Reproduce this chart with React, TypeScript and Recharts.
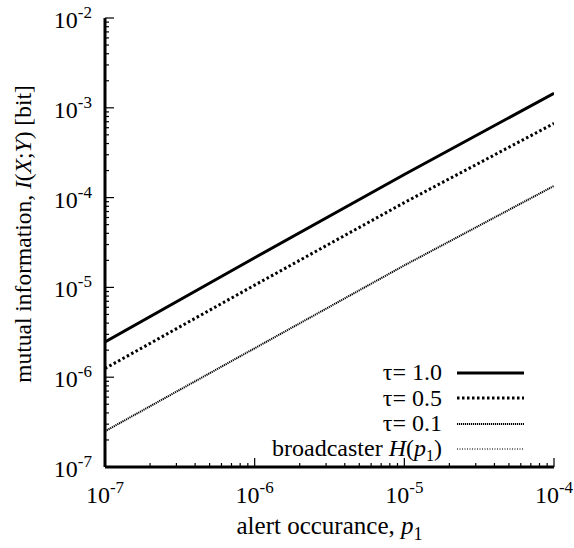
import React from "react";
import { LineChart, Line, XAxis, YAxis, Label } from "recharts";

const pValues = [1e-7, 1e-6, 1e-5, 1e-4];
const tau10 = [2.47e-6, 2.14e-5, 1.81e-4, 1.45e-3];
const tau05 = [1.25e-6, 1.06e-5, 8.8e-5, 6.7e-4];
const tau01 = [2.5e-7, 2.1e-6, 1.76e-5, 1.35e-4];
const broadcaster = [2.47e-6, 2.14e-5, 1.81e-4, 1.45e-3];

const xMajor = [-7, -6, -5, -4];
const yMajor = [-7, -6, -5, -4, -3, -2];

const data = pValues.map((x, i) => ({
  x,
  tau10: tau10[i],
  tau05: tau05[i],
  tau01: tau01[i],
  broadcaster: broadcaster[i],
}));

function withMinor(exps: number[]) {
  const out: number[] = [];
  exps.forEach((e, i) => {
    out.push(Number(`1e${e}`));
    if (i < exps.length - 1) {
      for (let m = 2; m <= 9; m++) out.push(Number(`${m}e${e}`));
    }
  });
  return out;
}
const xTicks = withMinor(xMajor);
const yTicks = withMinor(yMajor);

const FONT = '"Liberation Serif", "Times New Roman", serif';

function majorExp(v: number): number | null {
  const l = Math.log10(v);
  const r = Math.round(l);
  return Math.abs(l - r) < 1e-6 ? r : null;
}

const series = [
  { key: "broadcaster", label: "broadcaster", stroke: "#444", width: 1.3, dash: "1 1.5" },
  { key: "tau01", label: "τ= 0.1", stroke: "#000", width: 2, dash: "1.2 0.8" },
  { key: "tau05", label: "τ= 0.5", stroke: "#000", width: 3, dash: "2.5 2.5" },
  { key: "tau10", label: "τ= 1.0", stroke: "#000", width: 3, dash: undefined as string | undefined },
];
const legendOrder = ["tau10", "tau05", "tau01", "broadcaster"];

const BottomTick = (props: any) => {
  const { x, y, payload } = props;
  const e = majorExp(payload.value);
  const len = e !== null ? 9 : 4;
  return (
    <g>
      <line x1={x} x2={x} y1={y} y2={y - len} stroke="#000" strokeWidth={1.2} />
      {e !== null && (
        <text x={x} y={y + 36} textAnchor="middle" fontFamily={FONT} fontSize={24} fill="#000">
          10<tspan fontSize={17} dy={-10}>{String(e)}</tspan>
        </text>
      )}
    </g>
  );
};

const TopTick = (props: any) => {
  const { x, y, payload } = props;
  const e = majorExp(payload.value);
  const len = e !== null ? 9 : 4;
  return <line x1={x} x2={x} y1={y} y2={y + len} stroke="#000" strokeWidth={1.2} />;
};

const LeftTick = (props: any) => {
  const { x, y, payload } = props;
  const e = majorExp(payload.value);
  const len = e !== null ? 9 : 4;
  return (
    <g>
      <line x1={x} x2={x + len} y1={y} y2={y} stroke="#000" strokeWidth={1.2} />
      {e !== null && (
        <text x={x - 13} y={y + 10} textAnchor="end" fontFamily={FONT} fontSize={24} fill="#000">
          10<tspan fontSize={17} dy={-10}>{String(e)}</tspan>
        </text>
      )}
    </g>
  );
};

const RightTick = (props: any) => {
  const { x, y, payload } = props;
  const e = majorExp(payload.value);
  const len = e !== null ? 9 : 4;
  return <line x1={x} x2={x - len} y1={y} y2={y} stroke="#000" strokeWidth={1.2} />;
};

function legendLabel(key: string, label: string) {
  if (key === "broadcaster") {
    return (
      <>
        broadcaster <i>H</i>(<i>p</i>
        <span style={{ fontSize: 16, position: "relative", top: 5 }}>1</span>)
      </>
    );
  }
  return label;
}

const LegendBox = () => (
  <div
    style={{
      position: "absolute",
      left: 200,
      top: 352,
      width: 330,
      fontFamily: FONT,
      fontSize: 24,
      color: "#000",
      pointerEvents: "none",
    }}
  >
    {legendOrder.map((k) => {
      const s = series.find((q) => q.key === k)!;
      return (
        <div key={k} style={{ display: "flex", alignItems: "center", height: 25.5 }}>
          <span style={{ width: 234, textAlign: "right", lineHeight: "25px", whiteSpace: "nowrap" }}>
            {legendLabel(s.key, s.label)}
          </span>
          <svg width={84} height={12}>
            <line x1={15} x2={82} y1={6} y2={6} stroke={s.stroke} strokeWidth={s.width} strokeDasharray={s.dash} />
          </svg>
        </div>
      );
    })}
  </div>
);

export default function App() {
  return (
    <div style={{ position: "relative", width: 566, height: 532 }}>
      <style>{`html, body, #root { overflow: visible !important; } .recharts-surface { overflow: visible !important; } .recharts-wrapper { overflow: visible !important; }`}</style>
      <LineChart
        width={566}
        height={532}
        data={data}
        margin={{ top: 10, right: 20, bottom: 0, left: 0 }}
        style={{ fontFamily: FONT, overflow: "visible" }}
      >
        <XAxis
          xAxisId="bottom"
          dataKey="x"
          type="number"
          scale="log"
          domain={[1e-7, 1e-4]}
          allowDataOverflow
          ticks={xTicks}
          interval={0}
          tick={<BottomTick />}
          tickSize={0}
          tickMargin={0}
          tickLine={false}
          axisLine={{ stroke: "#000", strokeWidth: 3 }}
          height={73}
        >
          <Label
            content={(p: any) => {
              const vb = p.viewBox;
              return (
                <text x={vb.x + vb.width / 2} y={vb.y + 67} textAnchor="middle" fontFamily={FONT} fontSize={25} fill="#000">
                  alert occurance, <tspan fontStyle="italic">p</tspan>
                  <tspan fontSize={18} dy={6}>1</tspan>
                </text>
              );
            }}
          />
        </XAxis>
        <XAxis
          xAxisId="top"
          dataKey="x"
          type="number"
          scale="log"
          orientation="top"
          domain={[1e-7, 1e-4]}
          allowDataOverflow
          ticks={xTicks}
          interval={0}
          tick={<TopTick />}
          tickSize={0}
          tickMargin={0}
          tickLine={false}
          axisLine={{ stroke: "#000", strokeWidth: 3 }}
          height={0}
        />
        <YAxis
          yAxisId="left"
          type="number"
          scale="log"
          domain={[1e-7, 1e-2]}
          allowDataOverflow
          ticks={yTicks}
          interval={0}
          tick={<LeftTick />}
          tickSize={0}
          tickMargin={0}
          tickLine={false}
          axisLine={{ stroke: "#000", strokeWidth: 3 }}
          width={97}
        >
          <Label
            content={() => (
              <text
                x={23}
                y={226}
                transform="rotate(-90 23 226)"
                textAnchor="middle"
                fontFamily={FONT}
                fontSize={23.5}
                fill="#000"
              >
                mutual information, <tspan fontStyle="italic">I</tspan>(<tspan fontStyle="italic">X</tspan>;
                <tspan fontStyle="italic">Y</tspan>) [bit]
              </text>
            )}
          />
        </YAxis>
        <YAxis
          yAxisId="right"
          orientation="right"
          type="number"
          scale="log"
          domain={[1e-7, 1e-2]}
          allowDataOverflow
          ticks={yTicks}
          interval={0}
          tick={<RightTick />}
          tickSize={0}
          tickMargin={0}
          tickLine={false}
          axisLine={{ stroke: "#000", strokeWidth: 3 }}
          width={0}
        />
        <Line
          xAxisId="top"
          yAxisId="right"
          dataKey="tau10"
          stroke="none"
          dot={false}
          legendType="none"
          isAnimationActive={false}
        />
        {series.map((s) => (
          <Line
            key={s.key}
            xAxisId="bottom"
            yAxisId="left"
            type="linear"
            dataKey={s.key}
            stroke={s.stroke}
            strokeWidth={s.width}
            strokeDasharray={s.dash}
            dot={false}
            isAnimationActive={false}
          />
        ))}
      </LineChart>
      <LegendBox />
    </div>
  );
}
